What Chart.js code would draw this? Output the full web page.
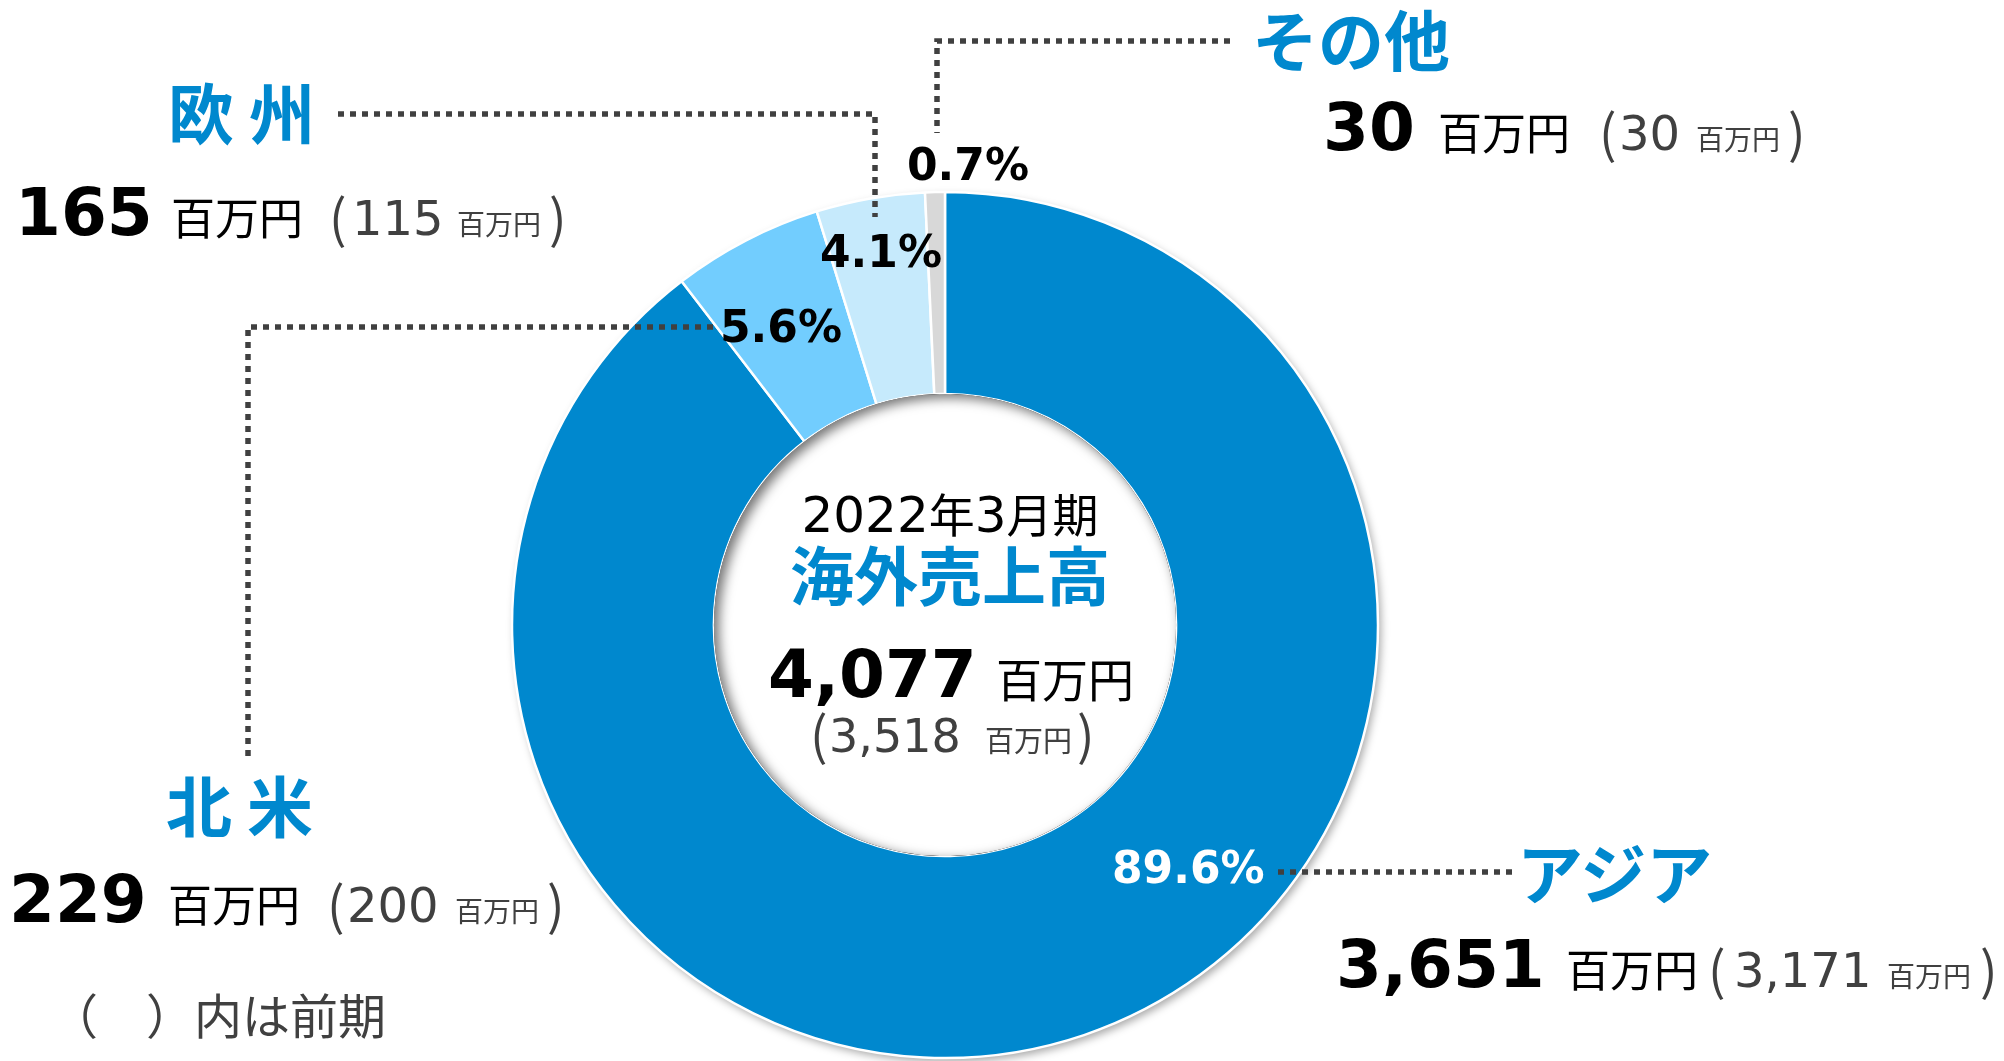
<!DOCTYPE html>
<html lang="ja">
<head>
<meta charset="UTF-8">
<title>海外売上高</title>
<script src="https://cdn.jsdelivr.net/npm/chart.js"></script>
<style>
    html, body {
        margin: 0;
        padding: 0;
        background: #fff;
    }
    .wrap {
        position: relative;
        width: 2004px;
        height: 1061px;
        overflow: hidden;
    }
    #salesChart, #labels {
        position: absolute;
        left: 0;
        top: 0;
    }
    #labels {
        pointer-events: none;
    }
</style>
</head>
<body>
<div class="wrap">
    <canvas id="salesChart" width="2004" height="1061"></canvas>
    <svg id="labels" width="2004" height="1061" xmlns="http://www.w3.org/2000/svg"></svg>
</div>

<script>
    // 地域別 海外売上高（百万円）
    const regions = ["アジア", "北米", "欧州", "その他"];
    const sales = [3651, 229, 165, 30];
    const prevSales = [3171, 200, 115, 30];
    const shares = [89.6, 5.6, 4.1, 0.7];
    const periodLabel = ["2022", "年", "3", "月期"];
    const totalSales = 4077;
    const prevTotal = 3518;
    const unit = "百万円";

    // 色
    const sliceColors = ["#0088CE", "#72CDFE", "#C6EAFC", "#D8D8D8"];
    const BLUE = "#0088CE";
    const GRAY = "#404040";
    const JP = "'Noto Sans CJK JP', sans-serif";
    const NUM = "'DejaVu Sans', sans-serif";

    // ラベル配置（名前・％・数値行・引き出し線）
    const labelLayout = [
        { name: [1517, 899], pct: [1112, 883], pctColor: "#fff", row: 987, cols: [1336, 1566, 1708, 1734, 1887, 1980], leader: [[1278, 872], [1512, 872]] },
        { name: [166, 832], pct: [720, 342], row: 922, cols: [9, 168, 327, 347, 455, 547], leader: [[713, 327], [248, 327], [248, 762]] },
        { name: [168, 139], pct: [820, 267], row: 235, cols: [15, 171, 329, 352, 457, 549], leader: [[338, 114], [875, 114], [875, 217]] },
        { name: [1252, 66], pct: [907, 180], row: 150, cols: [1323, 1438, 1599, 1619, 1696, 1788], leader: [[1230, 41], [937, 41], [937, 133]] }
    ];

    const fmt = n => n.toLocaleString("en-US");

    // リングの影（外側）と中央の穴の内側の影
    const ringShadow = {
        id: "ringShadow",
        beforeDatasetsDraw(chart) {
            const arc = chart.getDatasetMeta(0).data[0];
            if (!arc) return;
            const ctx = chart.ctx;
            ctx.save();
            ctx.shadowColor = "rgba(0,0,0,0.35)";
            ctx.shadowBlur = 8;
            ctx.shadowOffsetX = 3;
            ctx.shadowOffsetY = 4;
            ctx.fillStyle = "#fff";
            ctx.beginPath();
            ctx.arc(arc.x, arc.y, arc.outerRadius, 0, Math.PI * 2);
            ctx.fill();
            ctx.restore();
        },
        afterDatasetsDraw(chart) {
            const arc = chart.getDatasetMeta(0).data[0];
            if (!arc) return;
            const ctx = chart.ctx;
            const r = arc.innerRadius;
            ctx.save();
            ctx.beginPath();
            ctx.arc(arc.x, arc.y, r, 0, Math.PI * 2);
            ctx.clip();
            ctx.beginPath();
            ctx.rect(arc.x - r - 80, arc.y - r - 80, 2 * r + 160, 2 * r + 160);
            ctx.arc(arc.x, arc.y, r, 0, Math.PI * 2, true);
            ctx.shadowColor = "rgba(0,0,0,0.55)";
            ctx.shadowBlur = 12;
            ctx.shadowOffsetX = 5;
            ctx.shadowOffsetY = 4;
            ctx.fillStyle = "#000";
            ctx.fill();
            ctx.restore();
        }
    };

    const chart = new Chart(document.getElementById("salesChart"), {
        type: "doughnut",
        data: {
            labels: regions,
            datasets: [{
                data: sales,
                backgroundColor: sliceColors,
                borderColor: "#fff",
                borderWidth: 2.5
            }]
        },
        options: {
            responsive: false,
            animation: false,
            radius: 433,
            cutout: 232,
            layout: { padding: { left: 0, right: 114, top: 189, bottom: 0 } },
            plugins: {
                legend: { display: false },
                tooltip: { enabled: false }
            }
        },
        plugins: [ringShadow]
    });

    // テキストと引き出し線（SVG）
    function txt(x, y, s, size, family, opts = {}) {
        return `<text x="${x}" y="${y}" font-size="${size}" font-family="${family}"` +
            ` font-weight="${opts.bold ? 700 : 400}" fill="${opts.fill || "#000"}"` +
            ` text-anchor="${opts.anchor || "start"}">${s}</text>`;
    }

    let svg = "";
    labelLayout.forEach(p => {
        const pts = p.leader.map(q => q.join(",")).join(" ");
        svg += `<polyline points="${pts}" fill="none" stroke="${GRAY}" stroke-width="5.5" stroke-dasharray="6 6"/>`;
    });
    labelLayout.forEach((p, i) => {
        const name = regions[i].length === 2 ? regions[i].split("").join(" ") : regions[i];
        svg += txt(p.name[0], p.name[1], name, 66, JP, { bold: true, fill: BLUE });
        svg += txt(p.pct[0], p.pct[1], shares[i].toFixed(1) + "%", 44, NUM, { bold: true, fill: p.pctColor || "#000" });
        const c = p.cols, y = p.row;
        svg += txt(c[0], y, fmt(sales[i]), 66, NUM, { bold: true });
        svg += txt(c[1], y, unit, 44, JP);
        svg += txt(c[2], y + 3, "(", 52, JP, { fill: GRAY });
        svg += txt(c[3], y, fmt(prevSales[i]), 48, NUM, { fill: GRAY });
        svg += txt(c[4], y, unit, 28, JP, { fill: GRAY });
        svg += txt(c[5], y + 3, ")", 52, JP, { fill: GRAY });
    });

    // 中央
    svg += `<text x="950" y="532" text-anchor="middle" fill="#000">` +
        `<tspan font-family="${NUM}" font-size="50">${periodLabel[0]}</tspan>` +
        `<tspan font-family="${JP}" font-size="46">${periodLabel[1]}</tspan>` +
        `<tspan font-family="${NUM}" font-size="50">${periodLabel[2]}</tspan>` +
        `<tspan font-family="${JP}" font-size="46">${periodLabel[3]}</tspan></text>`;
    svg += txt(950, 600, "海外売上高", 64, JP, { bold: true, fill: BLUE, anchor: "middle" });
    svg += txt(768, 697, fmt(totalSales), 66, NUM, { bold: true });
    svg += txt(996, 697, unit, 46, JP);
    svg += txt(810, 755, "(", 52, JP, { fill: GRAY });
    svg += txt(829, 752, fmt(prevTotal), 46, NUM, { fill: GRAY });
    svg += txt(985, 752, unit, 29, JP, { fill: GRAY });
    svg += txt(1077, 755, ")", 52, JP, { fill: GRAY });

    // 注記
    svg += txt(50, 1034, "（　）内は前期", 48, JP, { fill: GRAY });

    document.getElementById("labels").innerHTML = svg;
</script>
</body>
</html>
